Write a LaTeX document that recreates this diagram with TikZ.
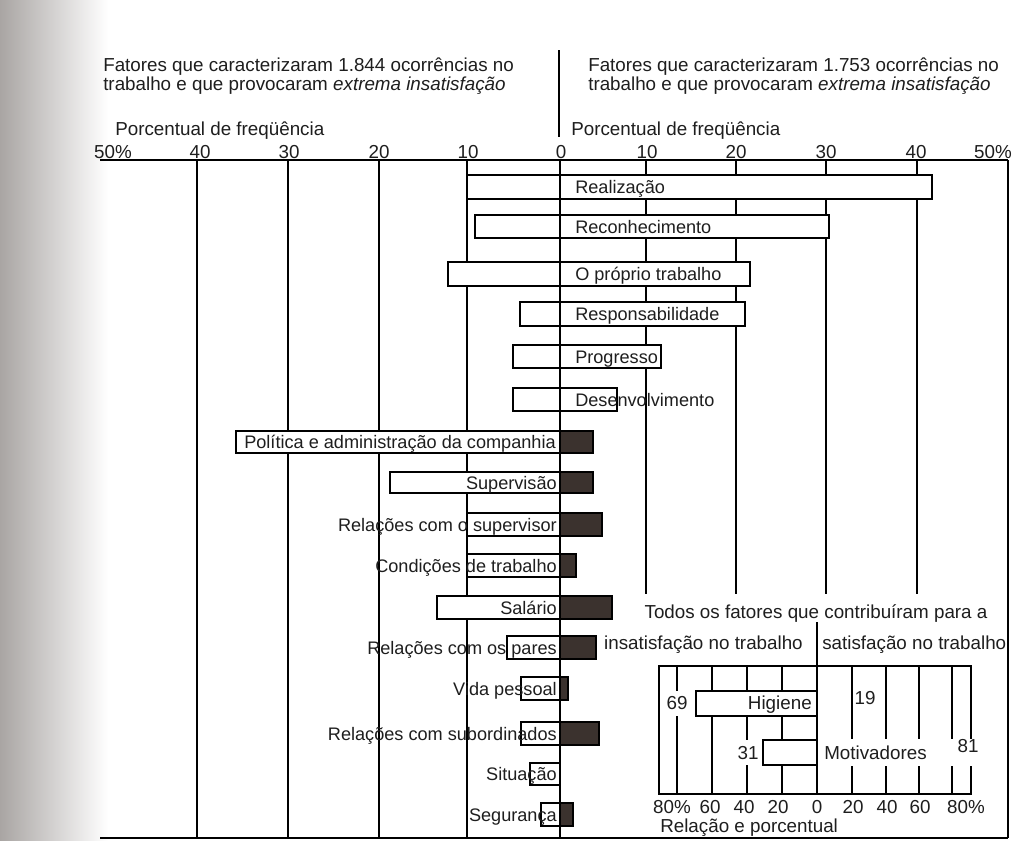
\documentclass[tikz,border=0pt]{standalone}
\usepackage{fontspec}
\setmainfont{Liberation Sans}
\definecolor{ink}{HTML}{1E1E1E}
\definecolor{darkbar}{HTML}{3B322E}
\definecolor{shadow}{HTML}{A9A5A3}
\newcommand\fsz{\fontsize{14.1}{16}\selectfont}
\newcommand\fbar{\fontsize{13.6}{16}\selectfont}
\begin{document}
\begin{tikzpicture}[x=0.75pt,y=-0.75pt,
  lbl/.style={font=\fsz, inner sep=0pt, text=ink},
  blbl/.style={font=\fbar, inner sep=0pt, text=ink},
  gridline/.style={draw=black, line width=1.1pt},
  wbar/.style={draw=black, fill=white, line width=1.1pt},
  dbar/.style={draw=black, fill=darkbar, line width=1.1pt},
  mask/.style={fill=white, draw=none}]
\useasboundingbox (0,0) rectangle (1013,840);
\fill[white] (0,0) rectangle (1013,840);
\shade[left color=shadow, right color=white] (0,0) rectangle (108,840);

% ---------- headings ----------
\node[lbl, anchor=base west] (tl1) at (103,71) {Fatores que caracterizaram 1.844 ocorrências no};
\node[lbl, anchor=base west] (tl2) at (103,90) {trabalho e que provocaram \textit{extrema insatisfação}};
\node[lbl, anchor=base west] (tr1) at (588,71) {Fatores que caracterizaram 1.753 ocorrências no};
\node[lbl, anchor=base west] (tr2) at (588,90) {trabalho e que provocaram \textit{extrema insatisfação}};
\coordinate (divtop) at (559,50);
\coordinate (divbot) at (559,137);
\draw[gridline] (divtop) -- (divbot);
\node[lbl, anchor=base west] (pl) at (115,135) {Porcentual de freqüência};
\node[lbl, anchor=base west] (pr) at (571,135) {Porcentual de freqüência};

% ---------- axis tick labels ----------
\foreach \x/\t/\n in {113/50\%/a, 200/40/b, 289/30/c, 379/20/d, 468/10/e, 561/0/f, 647/10/g, 736/20/h, 826/30/i, 916/40/j, 993/50\%/k}
  \node[lbl, anchor=base] (tick\n) at (\x,158) {\t};

% ---------- grid ----------
\draw[gridline] (100,160) -- (1008,160);
\foreach \x in {197,288,379,467,560,646,736,826,917}
  \draw[gridline] (\x,160) -- (\x,838);

% white area of the inset
\fill[mask] (620,594) rectangle (1007,837);

% ---------- motivator bars ----------
\draw[wbar] (467,175) rectangle (560,199); \draw[wbar] (560,175) rectangle (932,199);
\node[blbl, anchor=base west] (m1) at (575,193.5) {Realização};
\draw[wbar] (475,215) rectangle (560,238); \draw[wbar] (560,215) rectangle (829,238);
\node[blbl, anchor=base west] (m2) at (575,233) {Reconhecimento};
\draw[wbar] (448,262) rectangle (560,286); \draw[wbar] (560,262) rectangle (750,286);
\node[blbl, anchor=base west] (m3) at (575,280.5) {O próprio trabalho};
\draw[wbar] (520,302) rectangle (560,326); \draw[wbar] (560,302) rectangle (745,326);
\node[blbl, anchor=base west] (m4) at (575,320.5) {Responsabilidade};
\draw[wbar] (513,345) rectangle (560,368); \draw[wbar] (560,345) rectangle (661,368);
\node[blbl, anchor=base west] (m5) at (575,363) {Progresso};
\draw[wbar] (513,388) rectangle (560,411); \draw[wbar] (560,388) rectangle (617,411);
\node[blbl, anchor=base west] (m6) at (575,406) {Desenvolvimento};

% ---------- hygiene bars ----------
\draw[wbar] (236,431) rectangle (560,453); \draw[dbar] (560,431) rectangle (593,453);
\node[blbl, anchor=base east] (h1) at (556,448.5) {Política e administração da companhia};
\draw[wbar] (390,472) rectangle (560,493); \draw[dbar] (560,472) rectangle (593,493);
\node[blbl, anchor=base east] (h2) at (557,489) {Supervisão};
\draw[wbar] (467,513) rectangle (560,536); \draw[dbar] (560,513) rectangle (602,536);
\node[blbl, anchor=base east] (h3) at (557,531) {Relações com o supervisor};
\draw[wbar] (467,554) rectangle (560,577); \draw[dbar] (560,554) rectangle (576,577);
\node[blbl, anchor=base east] (h4) at (557,572) {Condições de trabalho};
\draw[wbar] (437,596) rectangle (560,619); \draw[dbar] (560,596) rectangle (612,619);
\node[blbl, anchor=base east] (h5) at (557,614) {Salário};
\draw[wbar] (507,636) rectangle (560,659); \draw[dbar] (560,636) rectangle (596,659);
\node[blbl, anchor=base east] (h6) at (557,654) {Relações com os pares};
\draw[wbar] (521,677) rectangle (560,700); \draw[dbar] (560,677) rectangle (568,700);
\node[blbl, anchor=base east] (h7) at (557,695) {Vida pessoal};
\draw[wbar] (521,722) rectangle (560,745); \draw[dbar] (560,722) rectangle (599,745);
\node[blbl, anchor=base east] (h8) at (557,740) {Relações com subordinados};
\draw[wbar] (530,763) rectangle (560,785);
\node[blbl, anchor=base east] (h9) at (557,780.5) {Situação};
\draw[wbar] (541,803) rectangle (560,826); \draw[dbar] (560,803) rectangle (573,826);
\node[blbl, anchor=base east] (h10) at (557,821) {Segurança};

% ---------- frame ----------
\draw[gridline] (1008,160) -- (1008,838);
\draw[gridline] (100,838) -- (1008,838);

% ---------- inset ----------
\node[lbl, anchor=base] (it1) at (816,618) {Todos os fatores que contribuíram para a};
\node[lbl, anchor=base east] (it2) at (803,649) {insatisfação no trabalho};
\node[lbl, anchor=base west] (it3) at (822,649) {satisfação no trabalho};
\draw[gridline] (659,666) rectangle (971,794);
\foreach \x in {677,712,747,782,852,886,919,952}
  \draw[gridline] (\x,666) -- (\x,794);
\coordinate (ctop) at (817,622);
\coordinate (cbot) at (817,794);
\draw[gridline] (ctop) -- (cbot);
\fill[mask] (818,739) rectangle (960,766);
\fill[mask] (666,691) rectangle (689,716);
\fill[mask] (738,740) rectangle (760,765);
\fill[mask] (960,739) rectangle (978,766);
\draw[wbar] (696,691) rectangle (817,716);
\draw[wbar] (763,740) rectangle (817,765);
\node[lbl, anchor=base east] (hig) at (812,709.5) {Higiene};
\node[lbl, anchor=base west] (mot) at (824,759) {Motivadores};
\node[lbl, anchor=base] (n69) at (677,709) {69};
\node[lbl, anchor=base] (n19) at (865,704) {19};
\node[lbl, anchor=base] (n31) at (748,759) {31};
\node[lbl, anchor=base] (n81) at (968,752) {81};
\foreach \x/\t/\n in {672/80\%/a, 710/60/b, 744/40/c, 778/20/d, 817/0/e, 853/20/f, 887/40/g, 920/60/h, 966/80\%/i}
  \node[lbl, anchor=base] (bt\n) at (\x,813) {\t};
\node[lbl, anchor=base west] (rel) at (660,832) {Relação e porcentual};
\end{tikzpicture}
\end{document}
